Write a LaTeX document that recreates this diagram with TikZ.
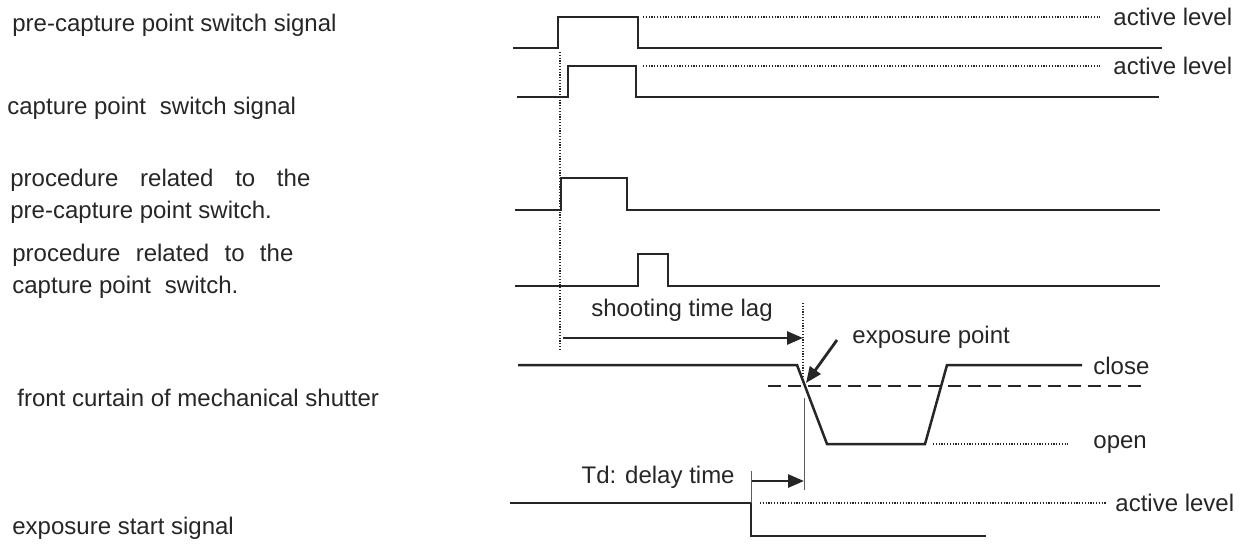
\documentclass[tikz,border=0pt]{standalone}
\usepackage{fontspec}
\setmainfont{Liberation Sans}
\usetikzlibrary{arrows.meta}
\definecolor{ink}{HTML}{262626}
\begin{document}
\begin{tikzpicture}[x=0.5pt,y=-0.5pt,
  sig/.style={draw=ink,line width=1.25pt,line join=miter},
  dots/.style={draw=ink,line width=0.75pt,dash pattern=on 0.6pt off 0.8pt},
  dash5/.style={draw=ink,line width=0.9pt,dash pattern=on 6.5pt off 3.5pt},
  thin/.style={draw=ink!75,line width=0.5pt},
  arr/.style={draw=ink,line width=1.4pt,-{Triangle[length=8pt,width=6.5pt]}},
  lbl/.style={font=\fontsize{12}{14}\selectfont,text=ink,inner sep=0pt,anchor=west}]
\useasboundingbox (0,0) rectangle (1246,543);
% left labels
\node[lbl] (l1) at (12,25) {pre-capture point switch signal};
\node[lbl] (l2) at (7,108) {capture point\hspace{0.3em} switch signal};
\node[lbl] (l3a) at (10,180) {\makebox[150pt][s]{procedure related to the}};
\node[lbl] (l3b) at (10,212) {pre-capture point switch.};
\node[lbl] (l4a) at (12,255) {\makebox[140.5pt][s]{procedure related to the}};
\node[lbl] (l4b) at (12,287) {capture point\hspace{0.3em} switch.};
\node[lbl] (l5) at (17,398) {front curtain of mechanical shutter};
\node[lbl] (l6) at (12,528) {exposure start signal};
% right labels
\node[lbl] (r1) at (1113,17) {active level};
\node[lbl] (r2) at (1113,66) {active level};
\node[lbl] (r3) at (1093,366) {close};
\node[lbl] (r4) at (1093,445) {open};
\node[lbl] (r5) at (1115,503) {active level};
\node[lbl,anchor=center] (stl) at (682,310) {shooting time lag};
\node[lbl] (ep) at (852,337) {exposure point};
\node[lbl,anchor=east] (td) at (735,477) {Td: delay time};
% signal 1
\path[sig] (513,48) -- (558,48) -- (558,17) -- (638,17) -- (638,48) -- (1162,48);
\path[dots] (643,17) -- (1100,17);
% signal 2
\path[sig] (517,97) -- (568,97) -- (568,66) -- (636,66) -- (636,97) -- (1159,97);
\path[dots] (643,66) -- (1100,66);
% signal 3
\path[sig] (515,210) -- (561,210) -- (561,178) -- (627,178) -- (627,210) -- (1160,210);
% signal 4
\path[sig] (515,286) -- (638,286) -- (638,254) -- (668,254) -- (668,286) -- (1160,286);
% shutter
\path[sig] (518,365) -- (797,365) -- (827,444) -- (925,444) -- (947,365) -- (1082,365);
\path[dash5] (768,386) -- (1147,386);
\path[dots] (933,444) -- (1068,444);
% exposure start signal
\path[sig] (510,503) -- (751,503) -- (751,536) -- (986,536);
\path[thin] (751,471) -- (751,503);
\path[dots] (760,503) -- (1107,503);
% verticals
\path[dots] (560,52) -- (560,349);
\path[dots] (803,303) -- (803,380);
\path[thin] (804,398) -- (804,490);
% arrows
\coordinate (a1s) at (563,338);
\coordinate (a1e) at (803,338);
\draw[arr] (a1s) -- (a1e);
\coordinate (a2s) at (837,340);
\coordinate (a2e) at (806,383);
\draw[arr] (a2s) -- (a2e);
\coordinate (a3s) at (752,481);
\coordinate (a3e) at (804,481);
\draw[arr] (a3s) -- (a3e);
\end{tikzpicture}
\end{document}
